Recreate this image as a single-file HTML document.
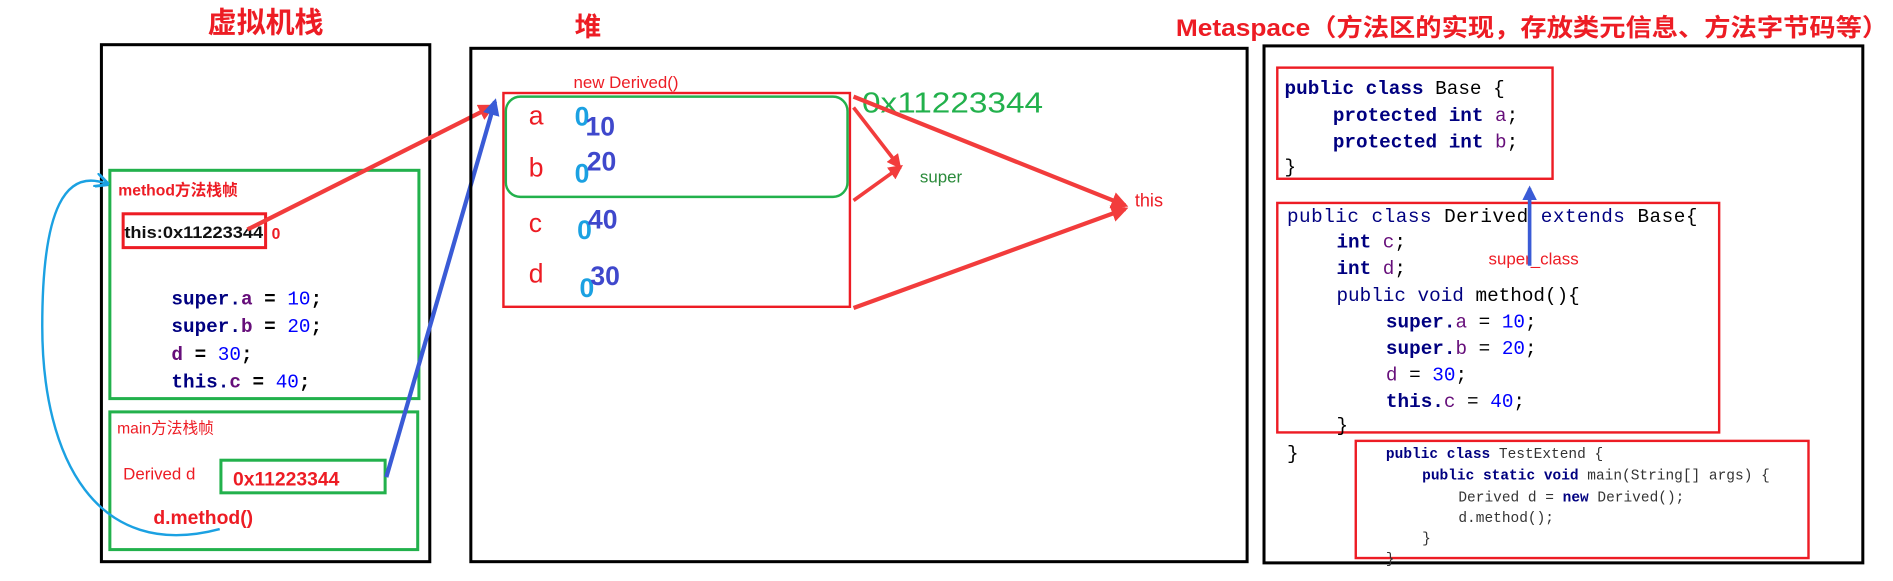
<!DOCTYPE html>
<html><head><meta charset="utf-8"><style>
html,body{margin:0;padding:0;background:#fff;}
svg{display:block;}
text{font-family:"Liberation Sans","Noto Sans CJK SC",sans-serif;}
.m{font-family:"Liberation Mono","Noto Sans CJK SC",monospace;}
</style></head><body>
<svg width="1893" height="581" viewBox="0 0 1568 481" preserveAspectRatio="none" xmlns="http://www.w3.org/2000/svg">
<defs>
<marker id="ar" viewBox="0 0 10 10" refX="8" refY="5" markerWidth="4" markerHeight="4" orient="auto"><path d="M0,0 L10,5 L0,10 z" fill="#f23c3c"/></marker>
<marker id="ab" viewBox="0 0 10 10" refX="8" refY="5" markerWidth="4" markerHeight="4" orient="auto"><path d="M0,0 L10,5 L0,10 z" fill="#3a5bd6"/></marker>
<marker id="ac" viewBox="0 0 10 10" refX="8" refY="5" markerWidth="6" markerHeight="6" orient="auto"><path d="M0,0 L10,5 L0,10" fill="none" stroke="#1ba1e2" stroke-width="2"/></marker>
</defs>
<!-- titles -->
<text x="220" y="27" font-size="24" font-weight="bold" fill="#ed1c24" text-anchor="middle">虚拟机栈</text>
<text x="487" y="30" font-size="22" font-weight="bold" fill="#ed1c24" text-anchor="middle">堆</text>
<text x="974" y="30" font-size="20" font-weight="bold" fill="#ed1c24" textLength="590" lengthAdjust="spacingAndGlyphs">Metaspace（方法区的实现，存放类元信息、方法字节码等）</text>

<!-- left stack -->
<rect x="84" y="37" width="272" height="428" fill="none" stroke="#000" stroke-width="2.5"/>
<rect x="91" y="141" width="256" height="189" fill="none" stroke="#22b14c" stroke-width="2.5"/>
<text x="98" y="162" font-size="13" font-weight="bold" fill="#ed1c24">method方法栈帧</text>
<rect x="102" y="177" width="118" height="28" fill="none" stroke="#ed1c24" stroke-width="2.5"/>
<text x="103" y="197" font-size="13.5" font-weight="bold" fill="#111" textLength="115" lengthAdjust="spacingAndGlyphs">this:0x11223344</text>
<text x="225" y="198" font-size="13" font-weight="bold" fill="#ed1c24">0</text>
<g class="m" font-size="16" font-weight="bold">
<text x="142" y="252" class="m"><tspan fill="#000080">super.</tspan><tspan fill="#660e7a">a</tspan><tspan fill="#000"> = </tspan><tspan fill="#0000ff" font-weight="normal">10</tspan><tspan fill="#000">;</tspan></text>
<text x="142" y="275" class="m"><tspan fill="#000080">super.</tspan><tspan fill="#660e7a">b</tspan><tspan fill="#000"> = </tspan><tspan fill="#0000ff" font-weight="normal">20</tspan><tspan fill="#000">;</tspan></text>
<text x="142" y="298" class="m"><tspan fill="#660e7a">d</tspan><tspan fill="#000"> = </tspan><tspan fill="#0000ff" font-weight="normal">30</tspan><tspan fill="#000">;</tspan></text>
<text x="142" y="321" class="m"><tspan fill="#000080">this.</tspan><tspan fill="#660e7a">c</tspan><tspan fill="#000"> = </tspan><tspan fill="#0000ff" font-weight="normal">40</tspan><tspan fill="#000">;</tspan></text>
</g>
<rect x="91" y="341" width="255" height="114" fill="none" stroke="#22b14c" stroke-width="2.5"/>
<text x="97" y="359" font-size="13" fill="#ed1c24">main方法栈帧</text>
<text x="102" y="397" font-size="14" fill="#ed1c24">Derived  d</text>
<rect x="183" y="381" width="136" height="27" fill="none" stroke="#22b14c" stroke-width="2.5"/>
<text x="193" y="402" font-size="16" font-weight="bold" fill="#ed1c24">0x11223344</text>
<text x="127" y="434" font-size="16" font-weight="bold" fill="#ed1c24">d.method()</text>
<path d="M182,438 C80,465 35,380 35,270 C35,170 55,140 88,152" fill="none" stroke="#1ba1e2" stroke-width="2" marker-end="url(#ac)"/>

<!-- connectors -->
<path d="M205,190 L408,88" stroke="#f23c3c" stroke-width="3.5" fill="none" marker-end="url(#ar)"/>
<path d="M320,395 L410,84" stroke="#3a5bd6" stroke-width="3.5" fill="none" marker-end="url(#ab)"/>

<!-- heap -->
<rect x="390" y="40" width="643" height="425" fill="none" stroke="#000" stroke-width="2.5"/>
<text x="475" y="73" font-size="14" fill="#ed1c24">new  Derived()</text>
<rect x="417" y="77" width="287" height="177" fill="none" stroke="#ed1c24" stroke-width="2"/>
<rect x="419" y="80" width="283" height="83" rx="12" fill="none" stroke="#22b14c" stroke-width="2"/>
<g font-size="22" fill="#ed1c24">
<text x="438" y="103">a</text><text x="438" y="146">b</text><text x="438" y="192">c</text><text x="438" y="234">d</text>
</g>
<g font-size="22" font-weight="bold" fill="#1ba1e2">
<text x="476" y="104">0</text><text x="476" y="151">0</text><text x="478" y="198">0</text><text x="480" y="246">0</text>
</g>
<g font-size="22" font-weight="bold" fill="#3f48cc">
<text x="485" y="112">10</text><text x="486" y="141">20</text><text x="487" y="189">40</text><text x="489" y="236">30</text>
</g>
<text x="714" y="93" font-size="24" fill="#22b14c" textLength="150" lengthAdjust="spacingAndGlyphs">0x11223344</text>
<text x="762" y="151" font-size="14" fill="#2a8a3a">super</text>
<text x="940" y="171" font-size="15" fill="#ed1c24">this</text>
<path d="M707,89 L745,138" stroke="#f23c3c" stroke-width="3" fill="none" marker-end="url(#ar)"/>
<path d="M707,166 L746,138" stroke="#f23c3c" stroke-width="3" fill="none" marker-end="url(#ar)"/>
<path d="M707,80 L932,170" stroke="#f23c3c" stroke-width="3.5" fill="none" marker-end="url(#ar)"/>
<path d="M707,255 L932,173" stroke="#f23c3c" stroke-width="3.5" fill="none" marker-end="url(#ar)"/>

<!-- metaspace -->
<rect x="1047" y="38" width="496" height="428" fill="none" stroke="#000" stroke-width="2.5"/>
<rect x="1058" y="56" width="228" height="92" fill="none" stroke="#ed1c24" stroke-width="2"/>
<g class="m" font-size="16">
<text x="1064" y="78" class="m"><tspan fill="#000080" font-weight="bold">public class </tspan><tspan fill="#000">Base {</tspan></text>
<text x="1104" y="100" class="m"><tspan fill="#000080" font-weight="bold">protected int </tspan><tspan fill="#660e7a">a</tspan><tspan fill="#000">;</tspan></text>
<text x="1104" y="122" class="m"><tspan fill="#000080" font-weight="bold">protected int </tspan><tspan fill="#660e7a">b</tspan><tspan fill="#000">;</tspan></text>
<text x="1064" y="143" class="m" fill="#000">}</text>
</g>
<rect x="1058" y="168" width="366" height="190" fill="none" stroke="#ed1c24" stroke-width="2"/>
<g class="m" font-size="16">
<text x="1066" y="184" class="m" textLength="340" lengthAdjust="spacing"><tspan fill="#000080">public class </tspan><tspan fill="#000">Derived </tspan><tspan fill="#000080">extends </tspan><tspan fill="#000">Base{</tspan></text>
<text x="1107" y="205" class="m"><tspan fill="#000080" font-weight="bold">int </tspan><tspan fill="#660e7a">c</tspan><tspan fill="#000">;</tspan></text>
<text x="1107" y="227" class="m"><tspan fill="#000080" font-weight="bold">int </tspan><tspan fill="#660e7a">d</tspan><tspan fill="#000">;</tspan></text>
<text x="1107" y="249" class="m"><tspan fill="#000080">public void </tspan><tspan fill="#000">method(){</tspan></text>
<text x="1148" y="271" class="m"><tspan fill="#000080" font-weight="bold">super.</tspan><tspan fill="#660e7a">a</tspan><tspan fill="#000"> = </tspan><tspan fill="#0000ff">10</tspan><tspan fill="#000">;</tspan></text>
<text x="1148" y="293" class="m"><tspan fill="#000080" font-weight="bold">super.</tspan><tspan fill="#660e7a">b</tspan><tspan fill="#000"> = </tspan><tspan fill="#0000ff">20</tspan><tspan fill="#000">;</tspan></text>
<text x="1148" y="315" class="m"><tspan fill="#660e7a">d</tspan><tspan fill="#000"> = </tspan><tspan fill="#0000ff">30</tspan><tspan fill="#000">;</tspan></text>
<text x="1148" y="337" class="m"><tspan fill="#000080" font-weight="bold">this.</tspan><tspan fill="#660e7a">c</tspan><tspan fill="#000"> = </tspan><tspan fill="#0000ff">40</tspan><tspan fill="#000">;</tspan></text>
<text x="1107" y="357" class="m" fill="#000">}</text>
<text x="1066" y="380" class="m" fill="#000">}</text>
</g>
<text x="1233" y="219" font-size="14" fill="#ed1c24">super_class</text>
<path d="M1267,220 L1267,156" stroke="#3a5bd6" stroke-width="3" fill="none" marker-end="url(#ab)"/>
<rect x="1123" y="365" width="375" height="97" fill="none" stroke="#ed1c24" stroke-width="2"/>
<g class="m" font-size="12" fill="#333">
<text x="1148" y="379" class="m"><tspan fill="#000080" font-weight="bold">public class </tspan>TestExtend {</text>
<text x="1178" y="397" class="m"><tspan fill="#000080" font-weight="bold">public static void </tspan>main(String[] args) {</text>
<text x="1208" y="415" class="m">Derived d = <tspan fill="#000080" font-weight="bold">new </tspan>Derived();</text>
<text x="1208" y="432" class="m">d.method();</text>
<text x="1178" y="449" class="m">}</text>
<text x="1148" y="466" class="m">}</text>
</g>
</svg>
</body></html>
